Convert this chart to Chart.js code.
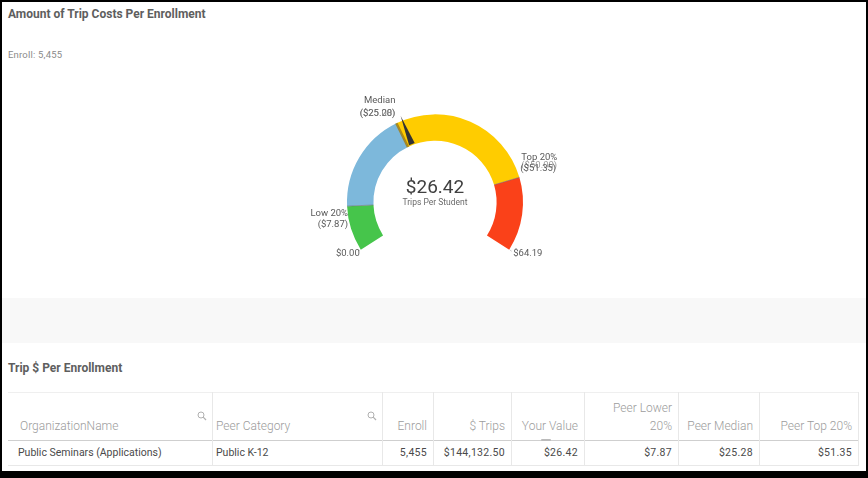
<!DOCTYPE html>
<html><head><meta charset="utf-8">
<script src="https://cdn.jsdelivr.net/npm/chart.js@4.4.0/dist/chart.umd.min.js"></script>
<style>
html,body{margin:0;padding:0;width:868px;height:478px;overflow:hidden;background:#000;font-family:Roboto,"Open Sans",sans-serif;}
#page{position:absolute;left:2px;top:2px;width:864px;height:469px;background:#fff;}
.t{position:absolute;white-space:nowrap;}
.hl{position:absolute;height:1px;}
.vl{position:absolute;width:1px;background:#e8e8e8;}
#gauge{position:absolute;left:1px;top:64px;}
</style>
</head><body>
<div id="page"></div>
<div class="t" style="left:8px;top:7px;font-size:12px;line-height:14px;font-weight:bold;color:#5e5e5e;">Amount of Trip Costs Per Enrollment</div>
<div class="t" id="enroll" style="left:8px;top:49px;font-size:9.5px;line-height:12px;color:#8a8a8a;letter-spacing:0.2px;"></div>
<div style="position:absolute;left:2px;top:298px;width:864px;height:45px;background:#f8f8f8;"></div>
<canvas id="gauge" width="868" height="236" style="width:868px;height:236px;"></canvas>
<div class="t" style="left:8px;top:361px;font-size:12px;line-height:14px;font-weight:bold;color:#5e5e5e;">Trip $ Per Enrollment</div>
<div id="table"></div>
<script>
// ---- data ----
const enrollCount = "5,455";
const bandLimits = [0, 7.87, 25.28, 51.35, 64.19];
const bandNames = ["Low 20%", "Median", "Top 20%"];
const yourValue = 26.42;
const valueCaption = "Trips Per Student";
const tableHeaders = ["OrganizationName", "Peer Category", "Enroll", "$ Trips", "Your Value", "Peer Lower 20%", "Peer Median", "Peer Top 20%"];
const tableRow = ["Public Seminars (Applications)", "Public K-12", "5,455", "$144,132.50", "$26.42", "$7.87", "$25.28", "$51.35"];

// ---- styles ----
const bandColors = ["#46c54b", "#7db8db", "#ffcc00", "#fa4119"];
const fmt = v => "$" + v.toFixed(2);

document.getElementById("enroll").textContent = "Enroll: " + enrollCount;

// ---- table ----
(function(){
  const colEdges = [8, 212, 382, 433, 511, 584, 678, 759, 858];
  const leftCols = [0, 1];
  const t = document.getElementById("table");
  let h = "";
  h += '<div class="hl" style="left:8px;top:392px;width:850px;background:#efefef;"></div>';
  h += '<div class="hl" style="left:8px;top:440px;width:850px;background:#cfcfcf;"></div>';
  h += '<div class="hl" style="left:8px;top:465px;width:850px;background:#e8e8e8;"></div>';
  for (let i = 1; i < colEdges.length; i++) {
    h += '<div class="vl" style="left:' + colEdges[i] + 'px;top:392px;height:74px;"></div>';
  }
  const hs = 'font-size:12px;line-height:14px;color:#9c9c9c;font-weight:300;';
  const rs = 'font-size:10.5px;line-height:12px;color:#4a4a4a;';
  tableHeaders.forEach((txt, i) => {
    if (leftCols.includes(i)) {
      h += '<div class="t" style="' + hs + 'left:' + (colEdges[i] + (i === 0 ? 12 : 4)) + 'px;top:419px;">' + txt + '</div>';
      const ix = colEdges[i + 1] - 15;
      h += '<svg style="position:absolute;left:' + ix + 'px;top:411px;" width="10" height="10"><circle cx="4" cy="4" r="3" fill="none" stroke="#b0b0b0" stroke-width="1"/><line x1="6.2" y1="6.2" x2="9" y2="9" stroke="#b0b0b0" stroke-width="1.2"/></svg>';
    } else {
      const right = 868 - (colEdges[i + 1] - 6);
      const parts = txt === "Peer Lower 20%" ? ["Peer Lower", "20%"] : [txt];
      parts.forEach((p, k) => {
        const top = 419 - (parts.length - 1 - k) * 18;
        h += '<div class="t" style="' + hs + 'right:' + right + 'px;top:' + top + 'px;text-align:right;">' + p + '</div>';
      });
    }
  });
  h += '<div style="position:absolute;left:541px;top:439px;width:10px;height:2px;background:#bbb;border-radius:1px;"></div>';
  tableRow.forEach((txt, i) => {
    if (leftCols.includes(i)) {
      h += '<div class="t" style="' + rs + 'left:' + (colEdges[i] + (i === 0 ? 10 : 4)) + 'px;top:447px;">' + txt + '</div>';
    } else {
      const right = 868 - (colEdges[i + 1] - 6);
      h += '<div class="t" style="' + rs + 'right:' + right + 'px;top:447px;letter-spacing:0.3px;">' + txt + '</div>';
    }
  });
  t.innerHTML = h;
})();

// ---- gauge ----
const segSizes = bandLimits.slice(1).map((v, i) => v - bandLimits[i]);

const gaugeOverlay = {
  id: "gaugeOverlay",
  afterDatasetsDraw(chart) {
    const ctx = chart.ctx;
    const arcs = chart.getDatasetMeta(0).data;
    const a = arcs[0];
    const cx = a.x, cy = a.y, ri = a.innerRadius, ro = a.outerRadius;
    const a0 = arcs[0].startAngle, a1 = arcs[arcs.length - 1].endAngle;
    const vmin = bandLimits[0], vmax = bandLimits[bandLimits.length - 1];
    const ang = v => a0 + (v - vmin) / (vmax - vmin) * (a1 - a0);
    const pt = (an, r) => ({x: cx + Math.cos(an) * r, y: cy + Math.sin(an) * r});
    ctx.save();
    for (let i = 1; i < bandLimits.length - 1; i++) {
      const an = ang(bandLimits[i]);
      const p1 = pt(an, ri), p2 = pt(an, ro);
      ctx.beginPath();
      ctx.moveTo(p1.x, p1.y); ctx.lineTo(p2.x, p2.y);
      if (i === 2) { ctx.strokeStyle = "rgba(160,125,20,0.85)"; ctx.lineWidth = 2.5; }
      else { ctx.strokeStyle = "rgba(110,110,110,0.55)"; ctx.lineWidth = 1; }
      ctx.stroke();
    }
    // needle
    const na = ang(yourValue);
    const b = pt(na, ri + 1), tip = pt(na, ro + 5);
    const px = -Math.sin(na) * 3, py = Math.cos(na) * 3;
    ctx.beginPath();
    ctx.moveTo(b.x + px, b.y + py);
    ctx.lineTo(tip.x, tip.y);
    ctx.lineTo(b.x - px, b.y - py);
    ctx.closePath();
    ctx.fillStyle = "#333";
    ctx.fill();
    // end ticks
    ctx.strokeStyle = "#cfcfcf";
    ctx.lineWidth = 1;
    [a0, a1].forEach(an => {
      const q1 = pt(an, ro + 1), q2 = pt(an, ro + 3);
      ctx.beginPath(); ctx.moveTo(q1.x, q1.y); ctx.lineTo(q2.x, q2.y); ctx.stroke();
    });
    // labels
    ctx.font = "9.5px Roboto";
    ctx.fillStyle = "#5a5a5a";
    ctx.textBaseline = "middle";
    let p = pt(ang(bandLimits[1]), ro);
    ctx.textAlign = "right";
    ctx.fillText(bandNames[0], p.x + 1, p.y + 7);
    ctx.fillText("(" + fmt(bandLimits[1]) + ")", p.x + 1, p.y + 18);
    p = pt(ang(bandLimits[2]), ro);
    ctx.fillText(bandNames[1], p.x - 1, p.y - 23);
    ctx.globalAlpha = 0.75;
    ctx.fillText("($25.00)", p.x - 1, p.y - 10);
    ctx.fillText("(" + fmt(bandLimits[2]) + ")", p.x - 1, p.y - 10);
    ctx.globalAlpha = 1;
    p = pt(ang(bandLimits[3]), ro);
    ctx.textAlign = "left";
    ctx.fillText(bandNames[2], p.x + 2, p.y - 20);
    ctx.globalAlpha = 0.6;
    ctx.fillText("($50.00)", p.x + 2, p.y - 12);
    ctx.globalAlpha = 1;
    ctx.fillText("(" + fmt(bandLimits[3]) + ")", p.x + 1, p.y - 9);
    p = pt(a0, ro);
    ctx.textAlign = "right";
    ctx.fillText(fmt(bandLimits[0]), p.x - 1, p.y + 4);
    p = pt(a1, ro);
    ctx.textAlign = "left";
    ctx.fillText(fmt(vmax), p.x + 4, p.y + 4);
    // center value
    ctx.textAlign = "center";
    ctx.fillStyle = "#404040";
    ctx.font = "19px Roboto";
    ctx.fillText(fmt(yourValue), cx, cy - 14);
    ctx.fillStyle = "#6a6a6a";
    ctx.font = "8.5px Roboto";
    ctx.fillText(valueCaption, cx, cy + 1);
    ctx.restore();
  }
};

new Chart(document.getElementById("gauge"), {
  type: "doughnut",
  data: {
    labels: ["0 - Low 20%", "Low 20% - Median", "Median - Top 20%", "Top 20% - Max"],
    datasets: [{data: segSizes, backgroundColor: bandColors, borderWidth: 0}]
  },
  options: {
    responsive: false,
    animation: false,
    events: [],
    rotation: -122.5,
    circumference: 245,
    cutout: "70%",
    radius: 88,
    layout: {padding: 0},
    plugins: {legend: {display: false}, tooltip: {enabled: false}}
  },
  plugins: [gaugeOverlay]
});
</script>
</body></html>
